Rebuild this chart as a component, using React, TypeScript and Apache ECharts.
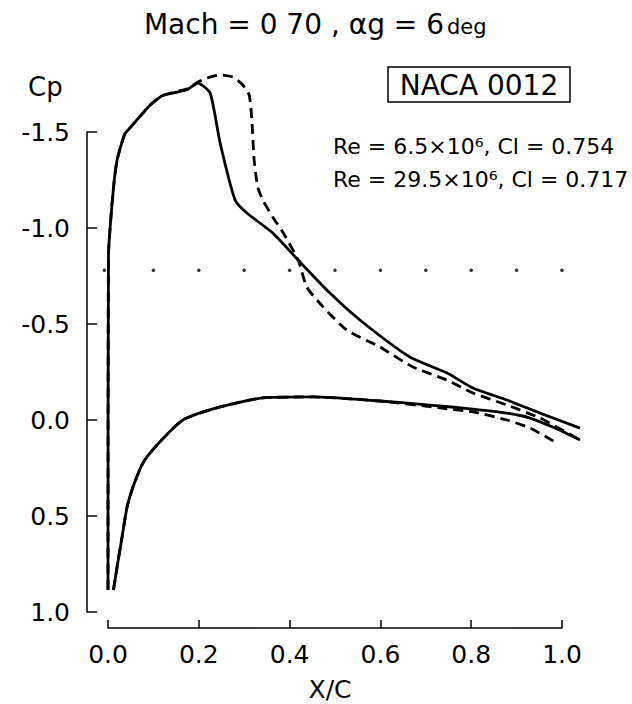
import React, { useEffect, useRef } from "react";
import * as echarts from "echarts";

const FONT = '"DejaVu Sans", sans-serif';

// Tick values
const xTickStep = 0.2;
const cpTickStep = 0.5;

// Re = 6.5e6 (solid) upper surface [x/c, Cp]
const upperSolid: [number, number][] = [
  [0.0, 0.885], [0.001, -0.849], [0.011, -1.182], [0.02, -1.354], [0.037, -1.49],
  [0.048, -1.52], [0.093, -1.64], [0.121, -1.69], [0.174, -1.72], [0.198, -1.755],
  [0.225, -1.703], [0.247, -1.443], [0.28, -1.146], [0.306, -1.078], [0.363, -0.974],
  [0.419, -0.833], [0.489, -0.661], [0.555, -0.521], [0.665, -0.328], [0.747, -0.245],
  [0.804, -0.167], [0.879, -0.104], [0.952, -0.036], [1.04, 0.042],
];

// Re = 6.5e6 (solid) lower surface
const lowerSolid: [number, number][] = [
  [0.012, 0.885], [0.02, 0.766], [0.031, 0.609], [0.042, 0.453], [0.055, 0.349],
  [0.077, 0.224], [0.108, 0.13], [0.165, 0.0], [0.247, -0.068], [0.341, -0.115],
  [0.452, -0.12], [0.599, -0.099], [0.709, -0.078], [0.804, -0.057], [0.879, -0.036],
  [0.93, -0.01], [0.985, 0.042], [1.04, 0.104],
];

// Re = 29.5e6 (dashed) upper surface
const upperDashed: [number, number][] = [
  [0.0, 0.885], [0.001, -0.849], [0.011, -1.182], [0.02, -1.354], [0.037, -1.49],
  [0.048, -1.52], [0.093, -1.64], [0.121, -1.69], [0.174, -1.725], [0.198, -1.76],
  [0.218, -1.781], [0.247, -1.797], [0.275, -1.786], [0.297, -1.745], [0.311, -1.693],
  [0.317, -1.562], [0.322, -1.354], [0.33, -1.214], [0.341, -1.146], [0.363, -1.057],
  [0.385, -0.979], [0.419, -0.833], [0.438, -0.693], [0.474, -0.589], [0.526, -0.469],
  [0.599, -0.38], [0.672, -0.276], [0.747, -0.208], [0.804, -0.141], [0.879, -0.078],
  [0.952, -0.01], [1.04, 0.104],
];

// Re = 29.5e6 (dashed) lower surface
const lowerDashed: [number, number][] = [
  [0.012, 0.885], [0.02, 0.766], [0.031, 0.609], [0.042, 0.453], [0.055, 0.349],
  [0.077, 0.224], [0.108, 0.13], [0.165, 0.0], [0.247, -0.068], [0.341, -0.115],
  [0.452, -0.12], [0.599, -0.099], [0.731, -0.063], [0.804, -0.042], [0.879, 0.0],
  [0.93, 0.042], [0.985, 0.115],
];

// Critical (sonic) pressure coefficient, dotted line
const cpCritical = -0.78;
const sonicDotsX = [-0.008, 0.1, 0.2, 0.3, 0.4, 0.5, 0.6, 0.7, 0.8, 0.9, 1.0];

export default function App() {
  const ref = useRef<HTMLDivElement>(null);

  useEffect(() => {
    if (!ref.current) return;
    const chart = echarts.init(ref.current, null, { renderer: "svg" });
    const lineBase = {
      type: "line" as const,
      showSymbol: false,
      clip: false,
      smooth: 0.2,
      xAxisIndex: 1,
      yAxisIndex: 1,
      z: 3,
    };
    const axisLineStyle = { color: "#000", width: 1.5 };
    chart.setOption({
      animation: false,
      backgroundColor: "#fff",
      grid: [
        // visible axes: x 0..1, Cp -1.5..1.0
        { left: 108, right: 70, top: 132, bottom: 92 },
        // plotting frame with the same scale, wider extent (x 0..1.04, Cp -2..1)
        { left: 108, right: 52, top: 36, bottom: 92 },
      ],
      xAxis: [
        {
          type: "value",
          gridIndex: 0,
          min: 0,
          max: 1,
          interval: xTickStep,
          offset: 16,
          axisLine: { show: true, onZero: false, lineStyle: axisLineStyle },
          axisTick: { show: true, inside: true, length: 8, lineStyle: axisLineStyle },
          axisLabel: {
            color: "#000",
            fontFamily: FONT,
            fontSize: 25,
            margin: 14,
            formatter: (v: number) => v.toFixed(1),
          },
          splitLine: { show: false },
        },
        {
          type: "value",
          gridIndex: 1,
          min: 0,
          max: 1.04,
          show: false,
          splitLine: { show: false },
        },
      ],
      yAxis: [
        {
          type: "value",
          gridIndex: 0,
          inverse: true,
          min: -1.5,
          max: 1.0,
          interval: cpTickStep,
          offset: 21,
          axisLine: { show: true, onZero: false, lineStyle: axisLineStyle },
          axisTick: { show: true, inside: true, length: 10, lineStyle: axisLineStyle },
          axisLabel: {
            color: "#000",
            fontFamily: FONT,
            fontSize: 25,
            margin: 17,
            formatter: (v: number) => v.toFixed(1),
          },
          splitLine: { show: false },
        },
        {
          type: "value",
          gridIndex: 1,
          inverse: true,
          min: -2.0,
          max: 1.0,
          show: false,
          splitLine: { show: false },
        },
      ],
      series: [
        { ...lineBase, name: "Re 6.5e6 upper", data: upperSolid, lineStyle: { color: "#000", width: 2.8 } },
        { ...lineBase, name: "Re 6.5e6 lower", data: lowerSolid, lineStyle: { color: "#000", width: 2.8 } },
        { ...lineBase, name: "Re 29.5e6 upper", data: upperDashed, lineStyle: { color: "#000", width: 2.8, type: [10, 6] } },
        { ...lineBase, name: "Re 29.5e6 lower", data: lowerDashed, lineStyle: { color: "#000", width: 2.8, type: [10, 6] } },
        {
          type: "scatter",
          name: "Cp*",
          xAxisIndex: 0,
          yAxisIndex: 0,
          data: sonicDotsX.map((x) => [x, cpCritical]),
          symbol: "circle",
          symbolSize: 3.5,
          itemStyle: { color: "#000" },
          clip: false,
        },
      ],
      graphic: [
        {
          type: "text",
          x: 444,
          y: 38,
          style: { text: "Mach = 0 70 , αg = 6", font: `28px ${FONT}`, fill: "#000", align: "right", verticalAlign: "bottom" },
        },
        {
          type: "text",
          x: 447,
          y: 37,
          style: { text: "deg", font: `21px ${FONT}`, fill: "#000", align: "left", verticalAlign: "bottom" },
        },
        {
          type: "text",
          x: 28,
          y: 74,
          style: { text: "Cp", font: `26px ${FONT}`, fill: "#000" },
        },
        {
          type: "rect",
          shape: { x: 388, y: 67, width: 182, height: 35 },
          style: { fill: "none", stroke: "#000", lineWidth: 1.5 },
        },
        {
          type: "text",
          x: 479,
          y: 85,
          style: { text: "NACA 0012", font: `28px ${FONT}`, fill: "#000", align: "center", verticalAlign: "middle" },
        },
        {
          type: "text",
          x: 333,
          y: 146,
          style: { text: "Re = 6.5×10⁶, Cl = 0.754", font: `22px ${FONT}`, fill: "#000", align: "left", verticalAlign: "middle" },
        },
        {
          type: "text",
          x: 333,
          y: 179,
          style: { text: "Re = 29.5×10⁶, Cl = 0.717", font: `22px ${FONT}`, fill: "#000", align: "left", verticalAlign: "middle" },
        },
        {
          type: "text",
          x: 330,
          y: 689,
          style: { text: "X/C", font: `25px ${FONT}`, fill: "#000", align: "center", verticalAlign: "middle" },
        },
      ],
    });
    return () => chart.dispose();
  }, []);

  return (
    <div
      ref={ref}
      style={{ position: "fixed", left: 0, top: 0, width: 632, height: 704, background: "#fff" }}
    />
  );
}
